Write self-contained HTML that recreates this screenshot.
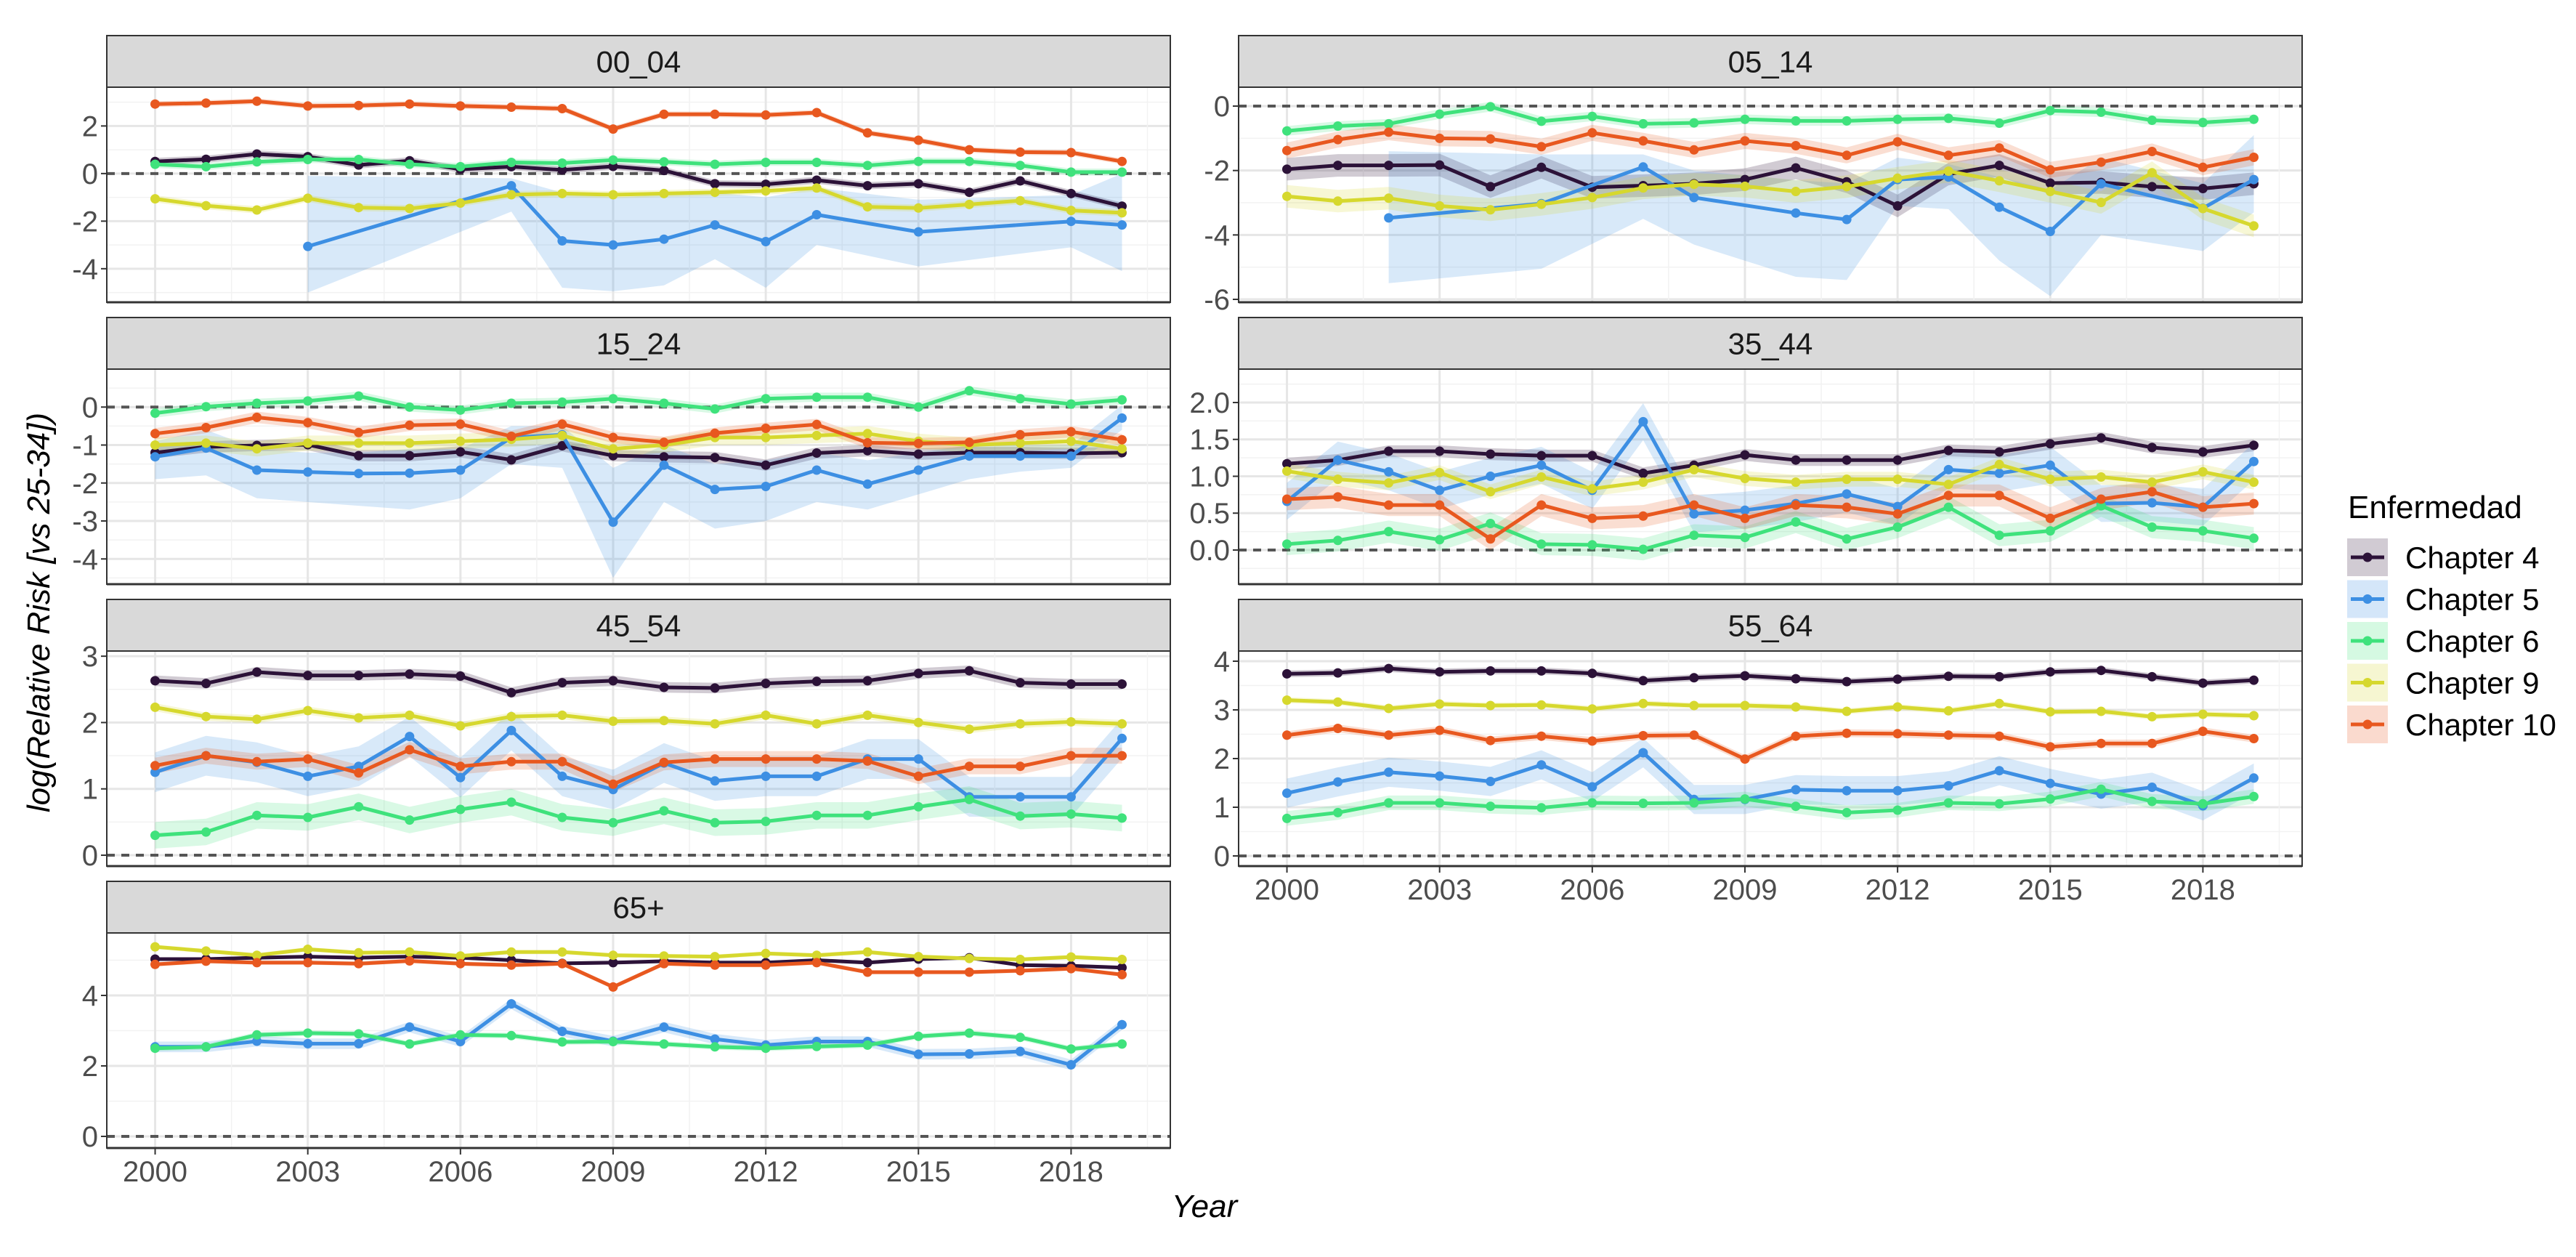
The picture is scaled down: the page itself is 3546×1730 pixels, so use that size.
<!DOCTYPE html>
<html><head><meta charset="utf-8">
<style>
html,body{margin:0;padding:0;background:#fff;}
svg{display:block;font-family:"Liberation Sans",Arial,sans-serif;}
</style></head>
<body>
<svg id="chart" xmlns="http://www.w3.org/2000/svg" width="3546" height="1730" viewBox="0 0 3546 1730">
<rect x="0" y="0" width="3546" height="1730" fill="#ffffff"/>
<g id="panels"></g>
<text x="0" y="0" transform="translate(68,843) rotate(-90)" text-anchor="middle" font-size="44" font-style="italic" fill="#000">log(Relative Risk [vs 25-34])</text>
<text x="1658" y="1675" text-anchor="middle" font-size="44" font-style="italic" fill="#000">Year</text>
<g id="legend"></g>
</svg>
<script>
const years = [2000,2001,2002,2003,2004,2005,2006,2007,2008,2009,2010,2011,2012,2013,2014,2015,2016,2017,2018,2019];
const seriesNames = ["Chapter 4","Chapter 5","Chapter 6","Chapter 9","Chapter 10"];
const seriesColors = ["#2c1238","#3d8fe3","#3fe27c","#d6d82e","#e8581f"];
const xTickYears = [2000,2003,2006,2009,2012,2015,2018];
const N = null;

// 00_04
const a0_ch4 = [0.51,0.6,0.82,0.71,0.36,0.54,0.18,0.29,0.15,0.3,0.13,-0.43,-0.45,-0.28,-0.51,-0.43,-0.79,-0.31,-0.84,-1.37];
const a0_ch5 = [N,N,N,-3.06,N,N,N,-0.51,-2.83,-3.0,-2.76,-2.16,-2.86,-1.73,N,-2.45,N,N,-2.01,-2.16];
const a0_ch5_lo = [N,N,N,-5.0,N,N,N,-1.6,-4.8,-4.95,-4.7,-3.6,-4.8,-3.0,N,-3.9,N,N,-3.1,-4.1];
const a0_ch5_hi = [N,N,N,-0.1,N,N,N,-0.2,-0.8,-1.0,-0.9,-0.8,-1.0,-0.6,N,-1.1,N,N,-0.9,0.0];
const a0_ch6 = [0.39,0.29,0.49,0.59,0.59,0.39,0.29,0.47,0.44,0.57,0.49,0.39,0.47,0.47,0.34,0.51,0.51,0.34,0.06,0.06];
const a0_ch9 = [-1.06,-1.35,-1.53,-1.04,-1.43,-1.47,-1.24,-0.89,-0.84,-0.89,-0.84,-0.79,-0.73,-0.61,-1.4,-1.45,-1.3,-1.14,-1.55,-1.65];
const a0_ch10 = [2.92,2.96,3.04,2.84,2.86,2.92,2.84,2.79,2.73,1.87,2.49,2.49,2.46,2.56,1.71,1.4,1.0,0.9,0.88,0.51];
const a0_hw = [0.15,0,0.15,0.15,0.12];

// 05_14
const a1_ch4 = [-1.96,-1.84,-1.84,-1.83,-2.5,-1.9,-2.52,-2.47,-2.41,-2.28,-1.92,-2.35,-3.1,-2.11,-1.84,-2.39,-2.37,-2.5,-2.56,-2.41];
const a1_ch5 = [N,N,-3.47,N,N,-3.03,N,-1.89,-2.84,N,-3.32,-3.52,-2.28,-2.2,-3.14,-3.89,-2.41,N,-3.17,-2.28];
const a1_ch5_lo = [N,N,-5.5,N,N,-5.05,N,-3.5,-4.3,N,-5.3,-5.4,-3.1,-3.2,-4.8,-5.9,-4.0,N,-4.5,-3.3];
const a1_ch5_hi = [N,N,-1.4,N,N,-1.5,N,-1.5,-2.0,N,-2.3,-2.4,-1.6,-1.8,-2.2,-2.6,-1.6,N,-2.4,-0.9];
const a1_ch6 = [-0.77,-0.62,-0.55,-0.25,-0.02,-0.47,-0.32,-0.55,-0.52,-0.41,-0.46,-0.46,-0.41,-0.38,-0.53,-0.14,-0.19,-0.44,-0.51,-0.41];
const a1_ch9 = [-2.8,-2.95,-2.86,-3.1,-3.22,-3.05,-2.84,-2.54,-2.43,-2.49,-2.65,-2.5,-2.24,-2.02,-2.32,-2.65,-2.99,-2.07,-3.18,-3.72];
const a1_ch10 = [-1.38,-1.04,-0.81,-1.0,-1.02,-1.26,-0.83,-1.08,-1.36,-1.08,-1.23,-1.53,-1.11,-1.53,-1.3,-1.98,-1.74,-1.41,-1.9,-1.59];
const a1_hw = [0.35,0,0.15,0.35,0.25];

// 15_24
const a2_ch4 = [-1.2,-1.05,-1.01,-0.99,-1.28,-1.28,-1.18,-1.39,-1.02,-1.28,-1.31,-1.33,-1.53,-1.21,-1.15,-1.24,-1.2,-1.2,-1.22,-1.2];
const a2_ch5 = [-1.31,-1.08,-1.66,-1.71,-1.75,-1.74,-1.66,-0.8,-0.73,-3.03,-1.53,-2.17,-2.09,-1.66,-2.03,-1.66,-1.29,-1.29,-1.29,-0.29];
const a2_ch5_lo = [-1.9,-1.8,-2.4,-2.5,-2.6,-2.7,-2.4,-1.5,-1.6,-4.5,-2.5,-3.2,-3.0,-2.5,-2.7,-2.3,-1.9,-1.7,-1.6,-0.6];
const a2_ch5_hi = [-0.9,-0.6,-1.1,-1.2,-1.2,-1.1,-1.1,-0.5,-0.5,-1.6,-1.0,-1.5,-1.4,-1.2,-1.4,-1.2,-1.0,-1.0,-1.0,0.05];
const a2_ch6 = [-0.16,0.01,0.1,0.16,0.29,0,-0.08,0.1,0.13,0.22,0.1,-0.05,0.22,0.26,0.26,0,0.43,0.22,0.08,0.19];
const a2_ch9 = [-1.0,-0.95,-1.1,-0.95,-0.95,-0.95,-0.9,-0.85,-0.75,-1.1,-1.0,-0.8,-0.8,-0.75,-0.7,-0.9,-1.0,-0.95,-0.9,-1.1];
const a2_ch10 = [-0.7,-0.54,-0.27,-0.41,-0.67,-0.48,-0.45,-0.77,-0.45,-0.8,-0.93,-0.69,-0.56,-0.46,-0.94,-0.96,-0.93,-0.73,-0.65,-0.86];
const a2_hw = [0.15,0,0.12,0.2,0.15];

// 35_44
const a3_ch4 = [1.17,1.22,1.34,1.34,1.30,1.28,1.28,1.04,1.15,1.29,1.22,1.22,1.22,1.35,1.33,1.44,1.52,1.39,1.33,1.42];
const a3_ch5 = [0.66,1.22,1.06,0.81,1.0,1.15,0.81,1.74,0.49,0.54,0.63,0.76,0.59,1.09,1.04,1.15,0.63,0.64,0.58,1.2];
const a3_ch6 = [0.08,0.13,0.25,0.14,0.36,0.08,0.07,0.01,0.2,0.17,0.38,0.15,0.31,0.58,0.2,0.26,0.6,0.31,0.26,0.16];
const a3_ch9 = [1.07,0.96,0.91,1.05,0.79,0.99,0.83,0.92,1.09,0.97,0.92,0.96,0.96,0.89,1.16,0.96,0.99,0.92,1.06,0.92];
const a3_ch10 = [0.69,0.72,0.61,0.61,0.15,0.61,0.43,0.46,0.61,0.43,0.61,0.58,0.49,0.74,0.74,0.43,0.69,0.79,0.58,0.63];
const a3_hw = [0.08,0.25,0.15,0.1,0.15];

// 45_54
const a4_ch4 = [2.63,2.59,2.76,2.71,2.71,2.73,2.70,2.45,2.60,2.63,2.53,2.52,2.59,2.62,2.63,2.74,2.78,2.60,2.58,2.58];
const a4_ch5 = [1.25,1.5,1.4,1.19,1.34,1.79,1.17,1.88,1.19,0.99,1.39,1.12,1.19,1.19,1.45,1.45,0.88,0.88,0.88,1.76];
const a4_ch6 = [0.3,0.35,0.6,0.57,0.73,0.53,0.69,0.8,0.57,0.49,0.67,0.49,0.51,0.6,0.6,0.73,0.84,0.59,0.62,0.56];
const a4_ch9 = [2.23,2.09,2.05,2.18,2.07,2.11,1.95,2.09,2.11,2.02,2.03,1.98,2.11,1.98,2.11,2.0,1.90,1.98,2.01,1.98];
const a4_ch10 = [1.35,1.5,1.41,1.45,1.24,1.59,1.34,1.41,1.41,1.07,1.4,1.45,1.45,1.45,1.42,1.19,1.34,1.34,1.5,1.5];
const a4_hw = [0.08,0.3,0.2,0.06,0.12];

// 55_64
const a5_ch4 = [3.74,3.76,3.85,3.78,3.80,3.80,3.75,3.60,3.66,3.70,3.64,3.58,3.63,3.69,3.68,3.78,3.81,3.68,3.55,3.61];
const a5_ch5 = [1.29,1.52,1.72,1.64,1.53,1.87,1.42,2.12,1.16,1.16,1.36,1.34,1.34,1.44,1.75,1.49,1.27,1.41,1.03,1.6];
const a5_ch6 = [0.77,0.89,1.09,1.09,1.02,0.99,1.09,1.08,1.09,1.17,1.02,0.89,0.94,1.09,1.07,1.17,1.37,1.12,1.07,1.22];
const a5_ch9 = [3.2,3.16,3.03,3.12,3.09,3.1,3.02,3.13,3.09,3.09,3.06,2.97,3.06,2.98,3.13,2.96,2.97,2.86,2.91,2.88];
const a5_ch10 = [2.48,2.62,2.48,2.58,2.37,2.46,2.36,2.47,2.48,1.99,2.46,2.52,2.51,2.48,2.46,2.24,2.31,2.31,2.56,2.41];
const a5_hw = [0.07,0.3,0.15,0.06,0.08];

// 65+
const a6_ch4 = [5.03,5.03,5.07,5.1,5.07,5.1,5.07,5.0,4.91,4.93,4.97,4.93,4.93,5.0,4.93,5.03,5.07,4.86,4.84,4.79];
const a6_ch5 = [2.54,2.54,2.7,2.63,2.63,3.1,2.69,3.76,2.98,2.7,3.1,2.76,2.59,2.69,2.69,2.33,2.34,2.41,2.03,3.17];
const a6_ch6 = [2.5,2.54,2.88,2.93,2.91,2.62,2.88,2.86,2.68,2.69,2.62,2.54,2.5,2.55,2.59,2.84,2.93,2.81,2.48,2.62];
const a6_ch9 = [5.38,5.26,5.14,5.31,5.21,5.23,5.12,5.23,5.23,5.14,5.12,5.1,5.19,5.14,5.23,5.1,5.05,5.02,5.09,5.02];
const a6_ch10 = [4.88,4.97,4.93,4.93,4.9,4.98,4.9,4.86,4.9,4.24,4.9,4.86,4.86,4.93,4.66,4.66,4.66,4.7,4.76,4.59];
const a6_hw = [0.05,0.15,0.08,0.06,0.06];

const panelNames = ["00_04","05_14","15_24","35_44","45_54","55_64","65+"];
const yTicks0 = [-4,-2,0,2];
const yTicks1 = [-6,-4,-2,0];
const yTicks2 = [-4,-3,-2,-1,0];
const yTicks3 = [0,0.5,1,1.5,2];
const yTicks4 = [0,1,2,3];
const yTicks5 = [0,1,2,3,4];
const yTicks6 = [0,2,4];
const yTickLabels3 = ["0.0","0.5","1.0","1.5","2.0"];

const NS = "http://www.w3.org/2000/svg";
function mk(tag, attrs, parent){
  const e = document.createElementNS(NS, tag);
  for (const k in attrs) e.setAttribute(k, attrs[k]);
  if (parent) parent.appendChild(e);
  return e;
}
const root = document.getElementById("panels");

const panelSeries = [
  [a0_ch4,a0_ch5,a0_ch6,a0_ch9,a0_ch10],
  [a1_ch4,a1_ch5,a1_ch6,a1_ch9,a1_ch10],
  [a2_ch4,a2_ch5,a2_ch6,a2_ch9,a2_ch10],
  [a3_ch4,a3_ch5,a3_ch6,a3_ch9,a3_ch10],
  [a4_ch4,a4_ch5,a4_ch6,a4_ch9,a4_ch10],
  [a5_ch4,a5_ch5,a5_ch6,a5_ch9,a5_ch10],
  [a6_ch4,a6_ch5,a6_ch6,a6_ch9,a6_ch10]
];
const panelHW = [a0_hw,a1_hw,a2_hw,a3_hw,a4_hw,a5_hw,a6_hw];
const panelCH5Band = {0:[a0_ch5_lo,a0_ch5_hi],1:[a1_ch5_lo,a1_ch5_hi],2:[a2_ch5_lo,a2_ch5_hi]};
const panelTicks = [yTicks0,yTicks1,yTicks2,yTicks3,yTicks4,yTicks5,yTicks6];
// layout: [col,row, yTop, yBottom, showXAxis]
const layout = [
  [0,0,3.63,-5.41,false],[1,0,0.587,-6.09,false],
  [0,1,1.0,-4.665,false],[1,1,2.453,-0.463,false],
  [0,2,3.078,-0.164,false],[1,2,4.209,-0.209,true],
  [0,3,5.773,-0.33,true]
];
const colX = [147,1705], PW = 1464, STRIP = 71, PH = 296;
const X0 = 1999.05, X1 = 2019.95;

panelNames.forEach((pname, pi) => {
  const [col,row,yT,yB,showX] = layout[pi];
  const left = colX[col], stripTop = 49 + 388*row, top = stripTop + STRIP, bottom = top + PH, right = left + PW;
  const xs = yr => left + (yr - X0)/(X1 - X0)*PW;
  const ys = v => top + (yT - v)/(yT - yB)*PH;
  const g = mk("g", {}, root);
  
  

  // strip
  const st = mk("rect", {x:left, y:stripTop, width:PW, height:STRIP, fill:"#d9d9d9", stroke:"#333", "stroke-width":2}, g);
  
  
  const stt = mk("text", {x:left+PW/2, y:stripTop+STRIP/2+15, "text-anchor":"middle", "font-size":42, fill:"#1a1a1a"}, g);
  stt.textContent = pname;
  
  

  mk("rect", {x:left, y:top, width:PW, height:PH, fill:"#fff"}, g);
  // grid
  const ticks = panelTicks[pi];
  const step = ticks[1]-ticks[0];
  for (let v = ticks[0]-step/2; v <= yT; v += step/2) {
    if (v < yB || v > yT) continue;
    const major = ticks.some(t => Math.abs(t-v) < 1e-9);
    mk("line", {x1:left, x2:right, y1:ys(v), y2:ys(v), stroke: major?"#e6e6e6":"#f2f2f2", "stroke-width": major?3:1.5}, g);
  }
  for (let yr = 1998.5; yr <= 2020; yr += 1.5) {
    if (yr < X0 || yr > X1) continue;
    const major = xTickYears.includes(yr);
    mk("line", {x1:xs(yr), x2:xs(yr), y1:top, y2:bottom, stroke: major?"#e6e6e6":"#f2f2f2", "stroke-width": major?3:1.5}, g);
  }
  // zero dashed line
  const zl = mk("line", {x1:left, x2:right, y1:ys(0), y2:ys(0), stroke:"#555", "stroke-width":4, "stroke-dasharray":"11 9"}, g);
  
  

  const ser = panelSeries[pi], hw = panelHW[pi];
  // ribbons
  ser.forEach((arr, si) => {
    let lo, hi;
    if (si === 1 && panelCH5Band[pi]) { lo = panelCH5Band[pi][0]; hi = panelCH5Band[pi][1]; }
    else { lo = arr.map(v => v===null?null:v-hw[si]); hi = arr.map(v => v===null?null:v+hw[si]); }
    const up = [], dn = [];
    years.forEach((yr,i) => { if (arr[i]!==null && lo[i]!==null) { up.push([xs(yr),ys(hi[i])]); dn.push([xs(yr),ys(lo[i])]); }});
    const pts = up.concat(dn.reverse()).map(p=>p[0].toFixed(1)+","+p[1].toFixed(1)).join(" ");
    const rb = mk("polygon", {points:pts, fill:seriesColors[si], "fill-opacity": si===0?0.22:0.2, stroke:"none"}, g);
    
    
  });
  // lines and points
  ser.forEach((arr, si) => {
    const pts = [];
    years.forEach((yr,i) => { if (arr[i]!==null) pts.push([xs(yr),ys(arr[i])]); });
    const ln = mk("polyline", {points:pts.map(p=>p[0].toFixed(1)+","+p[1].toFixed(1)).join(" "), fill:"none", stroke:seriesColors[si], "stroke-width":5, "stroke-linejoin":"round"}, g);
    
    
    pts.forEach(p => {
      const c = mk("circle", {cx:p[0].toFixed(1), cy:p[1].toFixed(1), r:6.5, fill:seriesColors[si]}, g);
      
      
    });
  });
  // border
  mk("rect", {x:left, y:top, width:PW, height:PH, fill:"none", stroke:"#333", "stroke-width":2}, g);
  mk("line", {x1:left, x2:right, y1:bottom, y2:bottom, stroke:"#333", "stroke-width":3}, g);
  // y ticks
  ticks.forEach((t,ti) => {
    mk("line", {x1:left-8, x2:left, y1:ys(t), y2:ys(t), stroke:"#333", "stroke-width":2}, g);
    const tl = mk("text", {x:left-12, y:ys(t)+14, "text-anchor":"end", "font-size":40, fill:"#4d4d4d"}, g);
    tl.textContent = pi===3 ? yTickLabels3[ti] : String(t);
    
    
  });
  if (showX) {
    xTickYears.forEach(yr => {
      mk("line", {x1:xs(yr), x2:xs(yr), y1:bottom, y2:bottom+9, stroke:"#333", "stroke-width":2}, g);
      const xl = mk("text", {x:xs(yr), y:bottom+46, "text-anchor":"middle", "font-size":40, fill:"#4d4d4d"}, g);
      xl.textContent = String(yr);
      
      
    });
  }
});

// legend
const lg = document.getElementById("legend");
const lt = mk("text", {x:3232, y:713, "font-size":44, fill:"#000"}, lg);
lt.textContent = "Enfermedad";


seriesNames.forEach((nm, si) => {
  const cy = 767 + si*57.5;
  const eg = mk("g", {}, lg);
  
  
  mk("rect", {x:3231, y:cy-26, width:56, height:52, fill:seriesColors[si], "fill-opacity":0.22}, eg);
  mk("line", {x1:3236, x2:3282, y1:cy, y2:cy, stroke:seriesColors[si], "stroke-width":5}, eg);
  mk("circle", {cx:3259, cy:cy, r:6.5, fill:seriesColors[si]}, eg);
  const tx = mk("text", {x:3311, y:cy+15, "font-size":42, fill:"#000"}, eg);
  tx.textContent = nm;
});
</script>
</body></html>
